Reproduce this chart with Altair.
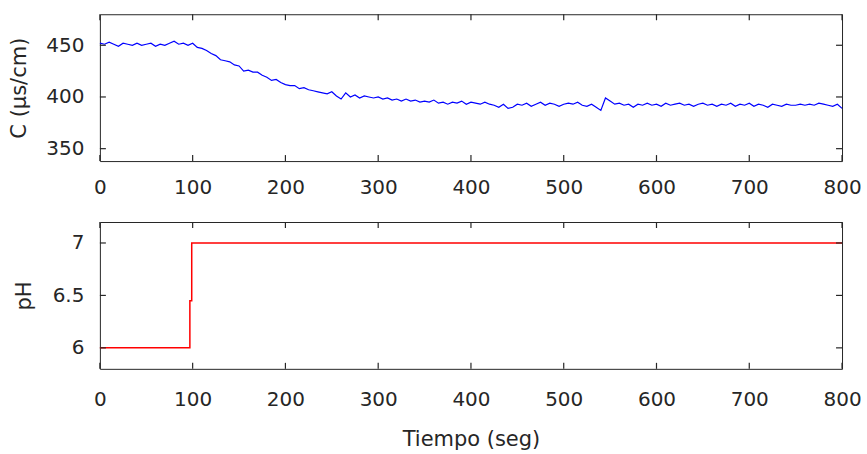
import altair as alt
import pandas as pd

# ---------------- data ----------------
time_c = list(range(0, 801, 5))
cond = [
    452, 451, 453, 451, 449, 452, 451, 450, 452, 450,
    451, 452, 449, 451, 450, 452, 454, 451, 452, 450,
    452, 448, 447, 445, 442, 440, 436, 435, 434, 431,
    430, 425, 426, 424, 424, 421, 419, 416, 417, 414,
    412, 411, 411, 408, 409, 407, 406, 405, 404, 403,
    405, 401, 398, 404, 400, 402, 399, 401, 400, 399,
    400, 398, 399, 397, 398, 396, 398, 396, 397, 395,
    396, 395, 397, 394, 395, 393, 395, 394, 396, 393,
    395, 394, 393, 395, 393, 392, 390, 393, 389, 390,
    393, 392, 394, 391, 393, 395, 392, 394, 393, 391,
    393, 394, 393, 395, 392, 391, 393, 390, 387, 399,
    396, 393, 394, 392, 393, 390, 393, 392, 394, 392,
    393, 391, 394, 392, 393, 394, 392, 393, 391, 393,
    394, 392, 393, 391, 393, 392, 394, 391, 393, 392,
    394, 391, 393, 392, 390, 393, 392, 391, 393, 392,
    392, 393, 392, 393, 392, 394, 393, 392, 391, 393,
    389,
]
ph_time = [0, 97, 99, 800]
ph_vals = [6, 6.45, 7, 7]

x_ticks = [0, 100, 200, 300, 400, 500, 600, 700, 800]
c_ticks = [350, 400, 450]
ph_ticks = [6, 6.5, 7]
X_DOMAIN = [0, 800]
C_DOMAIN = [338, 480]
PH_DOMAIN = [5.8, 7.2]

# ---------------- styling ----------------
W, H = 743, 147
TL = 6
FONT = "DejaVu Sans"
GRAY = "#262626"

df_c = pd.DataFrame({"t": time_c, "v": cond})
df_ph = pd.DataFrame({"t": ph_time, "v": ph_vals})


def x_axis(title=None, label_pad=17):
    kw = dict(values=x_ticks, ticks=False, domain=False, grid=False,
              labelFont=FONT, labelFontSize=20, labelColor=GRAY,
              labelPadding=label_pad, labelFlush=False)
    if title is None:
        return alt.Axis(title=None, **kw)
    return alt.Axis(title=title, titleFont=FONT, titleFontSize=21,
                    titleFontWeight="normal", titleColor=GRAY,
                    titlePadding=19, **kw)


def y_axis(title, values, tpad):
    return alt.Axis(values=values, ticks=False, domain=False, grid=False,
                    labelExpr="datum.value + ''", labelFont=FONT,
                    labelFontSize=20, labelColor=GRAY, labelPadding=16,
                    title=title, titleFont=FONT, titleFontSize=21,
                    titleFontWeight="normal", titleColor=GRAY,
                    titlePadding=tpad, minExtent=56, maxExtent=56)


def panel(df, yvals, ydom, color, sw, interp, ytitle, tpad, xtitle, xpad):
    xs = alt.Scale(domain=X_DOMAIN, nice=False, zero=False)
    ys = alt.Scale(domain=ydom, nice=False, zero=False)
    xa = x_axis(xtitle, xpad)
    ya = y_axis(ytitle, yvals, tpad)
    line = alt.Chart(df).mark_line(color=color, strokeWidth=sw,
                                   interpolate=interp).encode(
        x=alt.X("t:Q", scale=xs, axis=xa),
        y=alt.Y("v:Q", scale=ys, axis=ya),
    )
    # inward tick marks on all four sides (MATLAB box style)
    dy = (ydom[1] - ydom[0]) * TL / H
    dx = (X_DOMAIN[1] - X_DOMAIN[0]) * TL / W
    n_x = len(x_ticks)
    n_y = len(yvals)
    ticks_df = pd.DataFrame({
        "t": x_ticks + x_ticks + [X_DOMAIN[0]] * n_y + [X_DOMAIN[1]] * n_y,
        "t2": x_ticks + x_ticks + [X_DOMAIN[0] + dx] * n_y + [X_DOMAIN[1] - dx] * n_y,
        "v": [ydom[0]] * n_x + [ydom[1]] * n_x + yvals + yvals,
        "v2": [ydom[0] + dy] * n_x + [ydom[1] - dy] * n_x + yvals + yvals,
    })
    ticks = alt.Chart(ticks_df).mark_rule(color=GRAY, strokeWidth=1.2).encode(
        x=alt.X("t:Q", scale=xs, axis=xa),
        x2="t2:Q",
        y=alt.Y("v:Q", scale=ys, axis=ya),
        y2="v2:Q",
    )
    return alt.layer(line, ticks).properties(width=W, height=H)


top = panel(df_c, c_ticks, C_DOMAIN, "#0000ff", 1.2, "linear",
            "C (μs/cm)", 14, None, 16)
bottom = panel(df_ph, ph_ticks, PH_DOMAIN, "#ff0000", 1.5, "step-after",
               "pH", 9, "Tiempo (seg)", 21)

chart = alt.vconcat(top, bottom, spacing=22).properties(
    padding={"left": 8, "top": 12, "right": 5, "bottom": 5},
    background="white",
).configure_view(stroke=GRAY, strokeWidth=1)

chart.save("out.html", embed_options={"renderer": "svg", "actions": False})
